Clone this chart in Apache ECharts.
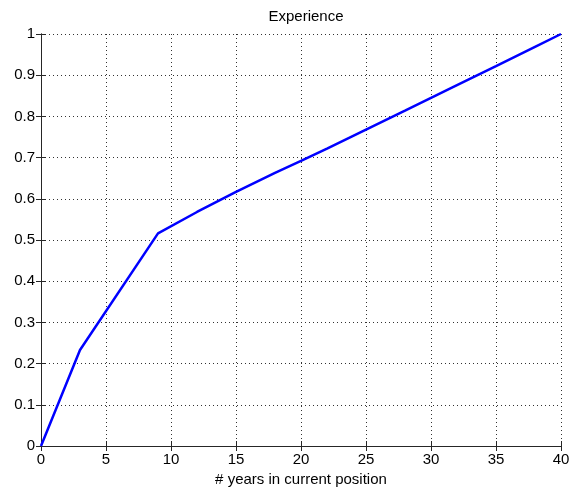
<!DOCTYPE html>
<html><head><meta charset="utf-8">
<script src="https://cdn.jsdelivr.net/npm/echarts@6/dist/echarts.min.js"></script>
<style>html,body{margin:0;padding:0;background:#fff}#c{width:569px;height:489px}</style>
</head><body><div id="c"></div>
<script>
const titleText = "Experience";
const xName = "# years in current position";
const years = [0, 3, 9, 12, 15, 18, 20, 22, 25, 28, 30, 32, 35, 38, 40];
const experience = [0, 0.233, 0.516, 0.568, 0.617, 0.663, 0.692, 0.722, 0.768, 0.814, 0.845, 0.876, 0.922, 0.969, 1.0];

const font = "Liberation Sans, Arial, sans-serif";
const chart = echarts.init(document.getElementById('c'), null, {renderer: 'canvas'});
const axisLine = {show: true, lineStyle: {color: '#262626', width: 1}};
const tick = {show: true, inside: true, length: 5, lineStyle: {color: '#262626'}};
const split = {show: true, lineStyle: {color: '#333', type: [1, 3], width: 1}};
chart.setOption({
  animation: false,
  title: {text: titleText, left: 301, top: 4, textAlign: 'center',
    textStyle: {fontFamily: font, fontSize: 15, fontWeight: 'normal', color: '#000'}},
  grid: {left: 41, right: 8, top: 34, bottom: 43, containLabel: false, outerBoundsMode: 'none'},
  xAxis: [{
    type: 'value', min: 0, max: 40, interval: 5, position: 'bottom',
    name: xName, nameLocation: 'middle', nameGap: 23,
    nameTextStyle: {fontFamily: font, fontSize: 15, color: '#000'},
    axisLine: axisLine, axisTick: tick, splitLine: split,
    axisLabel: {fontFamily: font, fontSize: 15, color: '#000', margin: 6}
  }, {
    type: 'value', min: 0, max: 40, interval: 5, position: 'top',
    axisLine: axisLine, axisTick: tick, splitLine: {show: false}, axisLabel: {show: false}
  }],
  yAxis: [{
    type: 'value', min: 0, max: 1, interval: 0.1, position: 'left',
    axisLine: axisLine, axisTick: tick, splitLine: split,
    axisLabel: {fontFamily: font, fontSize: 15, color: '#000', margin: 6,
      formatter: v => String(Math.round(v * 10) / 10)}
  }, {
    type: 'value', min: 0, max: 1, interval: 0.1, position: 'right',
    axisLine: axisLine, axisTick: tick, splitLine: {show: false}, axisLabel: {show: false}
  }],
  series: [{
    type: 'line', data: years.map((x, i) => [x, experience[i]]),
    showSymbol: false, symbol: 'none', smooth: false,
    lineStyle: {color: '#0000ff', width: 2.5}
  }]
});
</script></body></html>
